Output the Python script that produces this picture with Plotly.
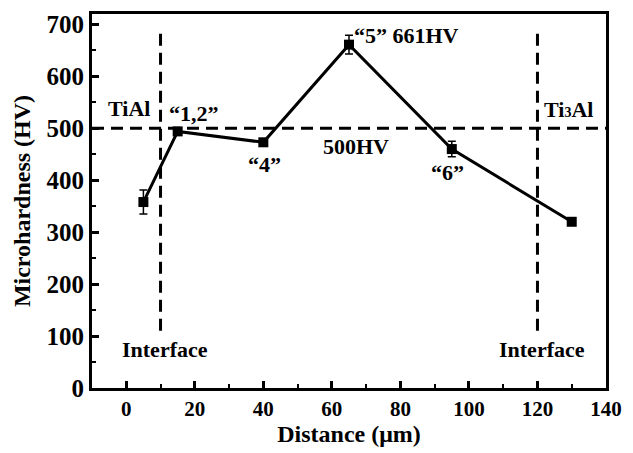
import plotly.graph_objects as go

# Data
distance = [5, 15, 40, 65, 95, 130]
hardness = [358, 494, 473, 661, 460, 320]
err = [23, 0, 0, 18, 15, 0]
interfaces = [10, 120]
threshold = 500
x_ticks = [0, 20, 40, 60, 80, 100, 120, 140]
y_ticks = [0, 100, 200, 300, 400, 500, 600, 700]

FONT = "Liberation Serif, Times New Roman, serif"

fig = go.Figure()
fig.add_trace(go.Scatter(
    x=distance, y=hardness, mode="lines+markers",
    line=dict(color="black", width=3),
    marker=dict(symbol="square", size=10, color="black"),
    error_y=dict(type="data", array=err, visible=True, color="black", thickness=1.5, width=4),
    showlegend=False,
))

dash = "12px,7px"
for xi in interfaces:
    fig.add_shape(type="line", x0=xi, x1=xi, y0=110, y1=685, xref="x", yref="y",
                  line=dict(color="black", width=3, dash=dash))
fig.add_shape(type="line", x0=0, x1=1, xref="paper", y0=threshold, y1=threshold, yref="y",
              line=dict(color="black", width=3, dash=dash))

labels = [
    (0.7, 539, "TiAl"),
    (19.7, 528, "\u201c1,2\u201d"),
    (40.4, 430, "\u201c4\u201d"),
    (81.8, 678, "\u201c5\u201d 661HV"),
    (66.9, 464, "500HV"),
    (93.7, 415, "\u201c6\u201d"),
    (129.1, 537, "Ti<span style='font-size:14px'>3</span>Al"),
    (11.2, 75, "Interface"),
    (121.3, 75, "Interface"),
]
for x, y, t in labels:
    fig.add_annotation(x=x, y=y, xref="x", yref="y", text=t, showarrow=False,
                       font=dict(family=FONT, size=22, color="black", weight="bold"))

axis_common = dict(
    showline=True, linecolor="black", linewidth=3, mirror=True,
    ticks="inside", ticklen=7, tickwidth=2.5, tickcolor="black",
    showgrid=False, zeroline=False,
)
fig.update_xaxes(range=[-10, 140], tickvals=x_ticks,
                 tickfont=dict(family=FONT, size=21, color="black", weight="bold"),
                 minor=dict(ticks="inside", ticklen=4, tickwidth=2, tickcolor="black", dtick=10, tick0=0),
                 title=dict(text="Distance (\u03bcm)", standoff=4,
                            font=dict(family=FONT, size=24, color="black", weight="bold")),
                 **axis_common)
fig.update_yaxes(range=[0, 720], tickvals=y_ticks,
                 tickfont=dict(family=FONT, size=25, color="black", weight="bold"),
                 minor=dict(ticks="inside", ticklen=4, tickwidth=2, tickcolor="black", dtick=50, tick0=0),
                 title=dict(text="Microhardness (HV)", standoff=10,
                            font=dict(family=FONT, size=24, color="black", weight="bold")),
                 **axis_common)

fig.update_layout(
    width=633, height=453,
    margin=dict(l=92, r=20, t=11, b=60),
    paper_bgcolor="white", plot_bgcolor="white",
)
fig.write_html("out.html")
